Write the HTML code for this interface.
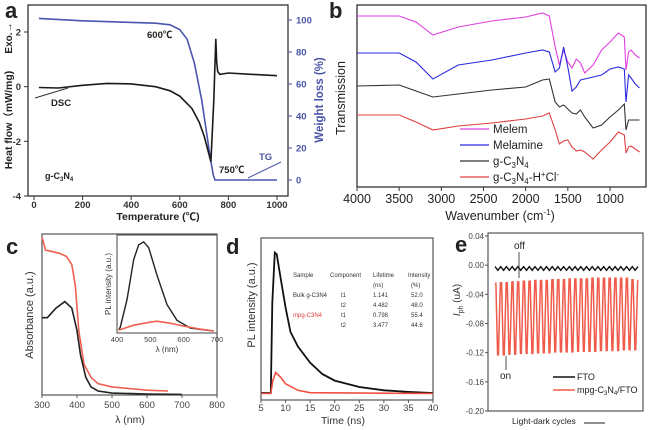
<!DOCTYPE html>
<html><head><meta charset="utf-8"><style>
html,body{margin:0;padding:0;background:#fff}
svg{display:block;font-family:"Liberation Sans","Noto Sans CJK SC",sans-serif}
</style></head><body>
<svg id="fig" width="650" height="430" viewBox="0 0 650 430" xmlns="http://www.w3.org/2000/svg"></svg>
<script>
// ---------- Panel a data ----------
const aTemp = [20,100,200,300,400,500,560,600,650,680,700,715,728,740,748,752,756,765,800,900,1000];
const aDSC  = [-0.03,-0.05,0.05,0.12,0.1,0.0,-0.15,-0.35,-0.8,-1.3,-1.8,-2.3,-2.75,-0.5,1.75,0.9,0.55,0.45,0.5,0.45,0.4];
const aTGTemp = [20,200,400,500,560,600,630,660,690,710,725,738,745,800,1000];
const aTG = [101,99.5,98.5,98,97,94,88,73,50,30,14,3,0,0,0];
const aXTicks = [0,200,400,600,800,1000];
const aYTicks = [2,0,-2,-4];
const aY2Ticks = [0,20,40,60,80,100];
// ---------- Panel b data ----------
const bWave = [4000,3500,3300,3100,2800,2400,2000,1800,1720,1650,1600,1550,1500,1450,1400,1350,1300,1200,1100,1000,900,830,810,780,750,700,650];
const bMelem = [171,171,165,152,160,166,170,174,171,140,122,137,125,119,128,124,114,122,137,145,154,150,117,135,137,132,129];
const bMelamine = [134,134,125,108,122,127,134,137,135,115,119,140,120,96,100,107,108,110,112,118,120,118,85,112,109,103,99];
const bGCN = [101,102,96,90,93,97,100,107,108,85,80,82,78,74,73,77,70,59,62,70,77,83,57,67,67,67,67];
const bHCl = [72,72,65,57,61,64,68,71,74,57,43,46,47,40,36,37,35,28,37,45,55,52,34,40,41,38,35];
const bXTicks = [4000,3500,3000,2500,2000,1500,1000];
const bLegend = ["Melem","Melamine","g-C3N4","g-C3N4-H+Cl-"];
// ---------- Panel c data ----------
const cWl = [300,310,330,350,370,385,395,405,420,440,460,500,600,660];
const cRed = [98,90,89,88,86,81,68,40,19,11,7,5,3,2.5];
const cWlB = [300,315,340,365,385,400,410,425,440,460,500,600,700];
const cBlack = [48,48,54,58,54,40,25,11,5,2.5,1.2,0.6,0.4];
const cXTicks = [300,400,500,600,700,800];
const ciWl = [405,410,430,450,465,480,495,520,550,580,620,690];
const ciBlack = [3,6,34,75,90,93,87,59,29,13,5,2];
const ciWlR = [405,450,500,520,560,600,650,690];
const ciRed = [3,8,11,12,10,7,4,2];
const ciXTicks = [400,500,600,700];
// ---------- Panel d data ----------
const dTime = [5,7,7.3,7.8,8.2,9,10,11,12.5,15,17.5,20,25,30,35,40];
const dBlack = [4.3,4.3,60,91,90,75,57,42,33,23,16,12,8,6,5,4.3];
const dTimeR = [5,7,7.4,8,9,10,12.5,15,40];
const dRed = [4,4,12,17,14,10,6,4.5,4];
const dXTicks = [5,10,15,20,25,30,35,40];
// ---------- Panel e data ----------
const eOff = [-0.025,-0.024,-0.024,-0.023,-0.023,-0.022,-0.022,-0.021,-0.021,-0.021,-0.020,-0.020,-0.020,-0.019,-0.019,-0.019,-0.019,-0.018,-0.018,-0.018,-0.018,-0.018,-0.018,-0.018,-0.020];
const eOn = [-0.123,-0.123,-0.122,-0.122,-0.121,-0.121,-0.121,-0.120,-0.120,-0.120,-0.119,-0.119,-0.119,-0.119,-0.118,-0.118,-0.118,-0.118,-0.117,-0.117,-0.117,-0.117,-0.116,-0.116,-0.116];
const eFTOhi = -0.002;
const eFTOlo = -0.007;
const eYTicks = [0.04,0.00,-0.04,-0.08,-0.12,-0.16,-0.20];

const svg = document.getElementById('fig');
const NS = 'http://www.w3.org/2000/svg';
function mk(tag, attrs, parent){const e=document.createElementNS(NS,tag);for(const k in attrs)e.setAttribute(k,attrs[k]);(parent||svg).appendChild(e);return e;}
function txt(s, x, y, attrs, parent){const t=mk('text',Object.assign({x:x,y:y},attrs||{}),parent);t.textContent=s;return t;}
function lin(d0,d1,r0,r1){return v=>r0+(v-d0)*(r1-r0)/(d1-d0);}
function pathD(xs,ys,sx,sy){return xs.map((v,i)=>(i?'L':'M')+sx(v).toFixed(1)+','+sy(ys[i]).toFixed(1)).join('');}
function grp(name){const g=mk('g',{});return g;}

// ================= Panel a =================
{
const g = grp('panel-a');
const sx = lin(0,1000,34,277), sy = lin(-4,2,196,32), sy2 = lin(0,100,180,20);
const fr = mk('rect',{x:28,y:5,width:260,height:191,fill:'none',stroke:'#333','stroke-width':1.3},g);
 
const lt = txt('a',5,18,{'font-size':22,'font-weight':'bold',fill:'#222'},g);
 
aXTicks.forEach(v=>{mk('line',{x1:sx(v),x2:sx(v),y1:196,y2:200,stroke:'#333'},g);
 const t=txt(String(v),sx(v),208,{'font-size':9.5,'font-weight':'bold','text-anchor':'middle',fill:'#333'},g);
  });
aYTicks.forEach(v=>{mk('line',{x1:24,x2:28,y1:sy(v),y2:sy(v),stroke:'#333'},g);
 const t=txt(String(v),21,sy(v)+3.5,{'font-size':9.5,'font-weight':'bold','text-anchor':'end',fill:'#333'},g);
  });
aY2Ticks.forEach(v=>{mk('line',{x1:288,x2:292,y1:sy2(v),y2:sy2(v),stroke:'#4a55a8'},g);
 const t=txt(String(v),296,sy2(v)+3.5,{'font-size':9.5,'font-weight':'bold',fill:'#4a55a8'},g);
  });
const tg = mk('path',{d:pathD(aTGTemp,aTG,sx,sy2),fill:'none',stroke:'#4a55b0','stroke-width':1.6},g);
 
const dsc = mk('path',{d:pathD(aTemp,aDSC,sx,sy),fill:'none',stroke:'#1a1a1a','stroke-width':1.6},g);
 
const xl = txt('Temperature (℃)',158,220,{'font-size':10.5,'font-weight':'bold','text-anchor':'middle',fill:'#222'},g);
 
const yl = txt('Heat flow（mW/mg)',0,0,{'font-size':10.5,'font-weight':'bold','text-anchor':'middle',fill:'#222',transform:'translate(12,120) rotate(-90)'},g);
 
const ex = txt('Exo.→',0,0,{'font-size':10,'font-weight':'bold','text-anchor':'middle',fill:'#222',transform:'translate(12,38) rotate(-90)'},g);
 
const y2l = txt('Weight loss (%)',0,0,{'font-size':11.5,'font-weight':'bold','text-anchor':'middle',fill:'#4a55a8',transform:'translate(323,100) rotate(-90)'},g);
 
[['600℃',147,38],['750℃',219,173],['DSC',51,106],['TG',259,160]].forEach(a=>{
 const t=txt(a[0],a[1],a[2],{'font-size':9.5,'font-weight':'bold',fill:a[0]==='TG'?'#4a55a8':'#222'},g);
  });
const gl = txt('g-C',45,179,{'font-size':9,'font-weight':'bold',fill:'#222'},g);
 
gl.innerHTML='g-C<tspan font-size="6" dy="2">3</tspan><tspan dy="-2">N</tspan><tspan font-size="6" dy="2">4</tspan>';
mk('line',{x1:68,y1:88,x2:35,y2:98,stroke:'#333','stroke-width':1},g);
mk('line',{x1:248,y1:178,x2:281,y2:162,stroke:'#4a55a8','stroke-width':1},g);
}

// ================= Panel b =================
{
const g = grp('panel-b');
const sx = lin(4000,1000,357,610), sy = lin(0,182,187,5);
const fr = mk('rect',{x:357,y:5,width:289,height:182,fill:'none',stroke:'#333','stroke-width':1.3},g);
 
const lt = txt('b',329,18,{'font-size':22,'font-weight':'bold',fill:'#222'},g);
 
bXTicks.forEach(v=>{mk('line',{x1:sx(v),x2:sx(v),y1:187,y2:191,stroke:'#333'},g);
 const t=txt(String(v),sx(v),203,{'font-size':12.5,'text-anchor':'middle',fill:'#222'},g);
  });
const cols=['#e040e0','#2a2ae0','#333','#e04040'];
[bMelem,bMelamine,bGCN,bHCl].forEach((s,i)=>{
 const p=mk('path',{d:pathD(bWave,s,sx,sy),fill:'none',stroke:cols[i],'stroke-width':1.1},g);
  });
const ly=[129,145,161,177];
bLegend.forEach((n,i)=>{
 mk('line',{x1:460,x2:489,y1:ly[i],y2:ly[i],stroke:cols[i],'stroke-width':1.3},g);
 const t=txt('',493,ly[i]+4,{'font-size':11.5,fill:'#222'},g);
  
 if(i<2) t.textContent=n;
 else if(i===2) t.innerHTML='g-C<tspan font-size="8" dy="3">3</tspan><tspan dy="-3">N</tspan><tspan font-size="8" dy="3">4</tspan>';
 else t.innerHTML='g-C<tspan font-size="8" dy="3">3</tspan><tspan dy="-3">N</tspan><tspan font-size="8" dy="3">4</tspan><tspan dy="-3">-H</tspan><tspan font-size="8" dy="-4">+</tspan><tspan dy="4">Cl</tspan><tspan font-size="8" dy="-4">-</tspan>';
});
const xl = txt('',500,220,{'font-size':12.5,'text-anchor':'middle',fill:'#222'},g);
xl.innerHTML='Wavenumber (cm<tspan font-size="8" dy="-5">-1</tspan><tspan dy="5">)</tspan>';
 
const yl = txt('Transmission',0,0,{'font-size':12.5,'text-anchor':'middle',fill:'#222',transform:'translate(345,98) rotate(-90)'},g);
 
}

// ================= Panel c =================
{
const g = grp('panel-c');
const sx = lin(300,800,42,217), sy = lin(0,100,395,234);
const fr = mk('rect',{x:42,y:234,width:175,height:161,fill:'none',stroke:'#555','stroke-width':1.2},g);
 
const lt = txt('c',6,254,{'font-size':22,'font-weight':'bold',fill:'#222'},g);
 
cXTicks.forEach(v=>{mk('line',{x1:sx(v),x2:sx(v),y1:395,y2:398,stroke:'#555'},g);
 const t=txt(String(v),sx(v),408,{'font-size':9.5,'text-anchor':'middle',fill:'#444'},g);
  });
const r = mk('path',{d:pathD(cWl,cRed,sx,sy),fill:'none',stroke:'#f06050','stroke-width':1.6},g);
 
const b = mk('path',{d:pathD(cWlB,cBlack,sx,sy),fill:'none',stroke:'#222','stroke-width':1.6},g);
 
const xl = txt('λ (nm)',130,423,{'font-size':10.5,'text-anchor':'middle',fill:'#333'},g);
 
const yl = txt('Absorbance (a.u.)',0,0,{'font-size':11,'text-anchor':'middle',fill:'#333',transform:'translate(33,315) rotate(-90)'},g);
 
// inset
const ix = lin(400,700,117,217), iy = lin(0,100,333,235);
const ifr = mk('rect',{x:117,y:235,width:100,height:98,fill:'#fff',stroke:'#555','stroke-width':1.1},g);
 
ciXTicks.forEach(v=>{
 const t=txt(String(v),ix(v),342,{'font-size':7.5,'text-anchor':'middle',fill:'#444'},g);
  });
const ib = mk('path',{d:pathD(ciWl,ciBlack,ix,iy),fill:'none',stroke:'#222','stroke-width':1.4},g);
 
const ir = mk('path',{d:pathD(ciWlR,ciRed,ix,iy),fill:'none',stroke:'#f06050','stroke-width':1.6},g);
 
const il = txt('λ (nm)',167,352,{'font-size':8,'text-anchor':'middle',fill:'#333'},g);
 
const iyl = txt('PL intensity (a.u.)',0,0,{'font-size':8,'text-anchor':'middle',fill:'#333',transform:'translate(111,284) rotate(-90)'},g);
 
}

// ================= Panel d =================
{
const g = grp('panel-d');
const sx = lin(5,40,261,433), sy = lin(0,100,400,238);
const fr = mk('rect',{x:261,y:238,width:172,height:162,fill:'none',stroke:'#555','stroke-width':1.2},g);
 
const lt = txt('d',226,254,{'font-size':22,'font-weight':'bold',fill:'#222'},g);
 
dXTicks.forEach(v=>{mk('line',{x1:sx(v),x2:sx(v),y1:400,y2:403,stroke:'#555'},g);
 const t=txt(String(v),sx(v),411,{'font-size':9.5,'text-anchor':'middle',fill:'#444'},g);
  });
const b = mk('path',{d:pathD(dTime,dBlack,sx,sy),fill:'none',stroke:'#111','stroke-width':1.8},g);
 
const r = mk('path',{d:pathD(dTimeR,dRed,sx,sy),fill:'none',stroke:'#f05040','stroke-width':1.6},g);
 
const xl = txt('Time (ns)',343,424,{'font-size':10.5,'text-anchor':'middle',fill:'#333'},g);
 
const yl = txt('PL intensity (a.u.)',0,0,{'font-size':11,'text-anchor':'middle',fill:'#333',transform:'translate(255,305) rotate(-90)'},g);
 
const rows=[[277,'Sample','Component','Lifetime','Intensity','#333'],[287,'','','(ns)','(%)','#333'],
 [297,'Bulk g-C3N4','t1','1.141','52.0','#333'],[307,'','t2','4.482','48.0','#333'],
 [317,'mpg-C3N4','t1','0.798','55.4','#e04040'],[327,'','t2','3.477','44.6','#333']];
rows.forEach(rw=>{
 const t1=txt(rw[1],293,rw[0],{'font-size':6,fill:rw[5]},g);  
 const t2=txt(rw[2],rw[2].length>3?330:341,rw[0],{'font-size':6,fill:'#333'},g);  
 const t3=txt(rw[3],373,rw[0],{'font-size':6,fill:'#333'},g);  
 const t4=txt(rw[4],rw[4].length>4?408:411,rw[0],{'font-size':6,fill:'#333'},g);  
});
}

// ================= Panel e =================
{
const g = grp('panel-e');
const sy = lin(0.04,-0.20,236,411);
const x0=495, x1=638, n=eOn.length, w=(x1-x0)/n;
const fr = mk('rect',{x:488,y:233,width:155,height:178,fill:'none',stroke:'#555','stroke-width':1.2},g);
 
const lt = txt('e',455,252,{'font-size':22,'font-weight':'bold',fill:'#222'},g);
 
eYTicks.forEach(v=>{mk('line',{x1:485,x2:488,y1:sy(v),y2:sy(v),stroke:'#555'},g);
 const t=txt(v.toFixed(2),484,sy(v)+3,{'font-size':8,'text-anchor':'end',fill:'#444'},g);
  });
let d='';
eOn.forEach((v,i)=>{const xa=x0+i*w;
 d+=(i?'L':'M')+xa.toFixed(1)+','+sy(eOff[i]).toFixed(1)+'L'+(xa+w*0.15).toFixed(1)+','+sy(eOff[i]).toFixed(1)+'L'+(xa+w*0.45).toFixed(1)+','+sy(v).toFixed(1)+'L'+(xa+w*0.6).toFixed(1)+','+sy(v).toFixed(1)+'L'+(xa+w*0.95).toFixed(1)+','+sy(eOff[Math.min(i+1,n-1)]).toFixed(1);});
const r = mk('path',{d:d,fill:'none',stroke:'#f05a4a','stroke-width':1.5},g);
 
let db='';
eOn.forEach((v,i)=>{const xa=x0+i*w;
 db+=(i?'L':'M')+xa.toFixed(1)+','+sy(eFTOhi).toFixed(1)+'L'+(xa+w*0.5).toFixed(1)+','+sy(eFTOlo).toFixed(1);});
db+='L'+x1+','+sy(eFTOhi).toFixed(1);
const b = mk('path',{d:db,fill:'none',stroke:'#111','stroke-width':1.4},g);
 
const off=txt('off',514,249,{'font-size':10,fill:'#222'},g);  
mk('line',{x1:519,x2:519,y1:252,y2:278,stroke:'#222','stroke-width':0.8},g);
const on=txt('on',500,379,{'font-size':10,fill:'#222'},g);  
mk('line',{x1:506,x2:506,y1:356,y2:370,stroke:'#222','stroke-width':0.8},g);
mk('line',{x1:553,x2:575,y1:377,y2:377,stroke:'#111','stroke-width':1.5},g);
mk('line',{x1:553,x2:575,y1:390,y2:390,stroke:'#f05a4a','stroke-width':1.5},g);
const l1=txt('FTO',577,380,{'font-size':9,fill:'#222'},g);  
const l2=txt('',577,393,{'font-size':9,fill:'#222'},g);  
l2.innerHTML='mpg-C<tspan font-size="6" dy="2">3</tspan><tspan dy="-2">N</tspan><tspan font-size="6" dy="2">4</tspan><tspan dy="-2">/FTO</tspan>';
const xl=txt('Light-dark cycles',512,424,{'font-size':8.5,fill:'#222'},g);  
mk('line',{x1:584,x2:605,y1:423,y2:423,stroke:'#222','stroke-width':1},g);
const yl=txt('',0,0,{'font-size':10,'text-anchor':'middle',fill:'#333',transform:'translate(460,300) rotate(-90)'},g);
yl.innerHTML='<tspan font-style="italic">I</tspan><tspan font-size="7" dy="3">ph</tspan><tspan dy="-3"> (uA)</tspan>';
 
}
</script>
</body></html>
